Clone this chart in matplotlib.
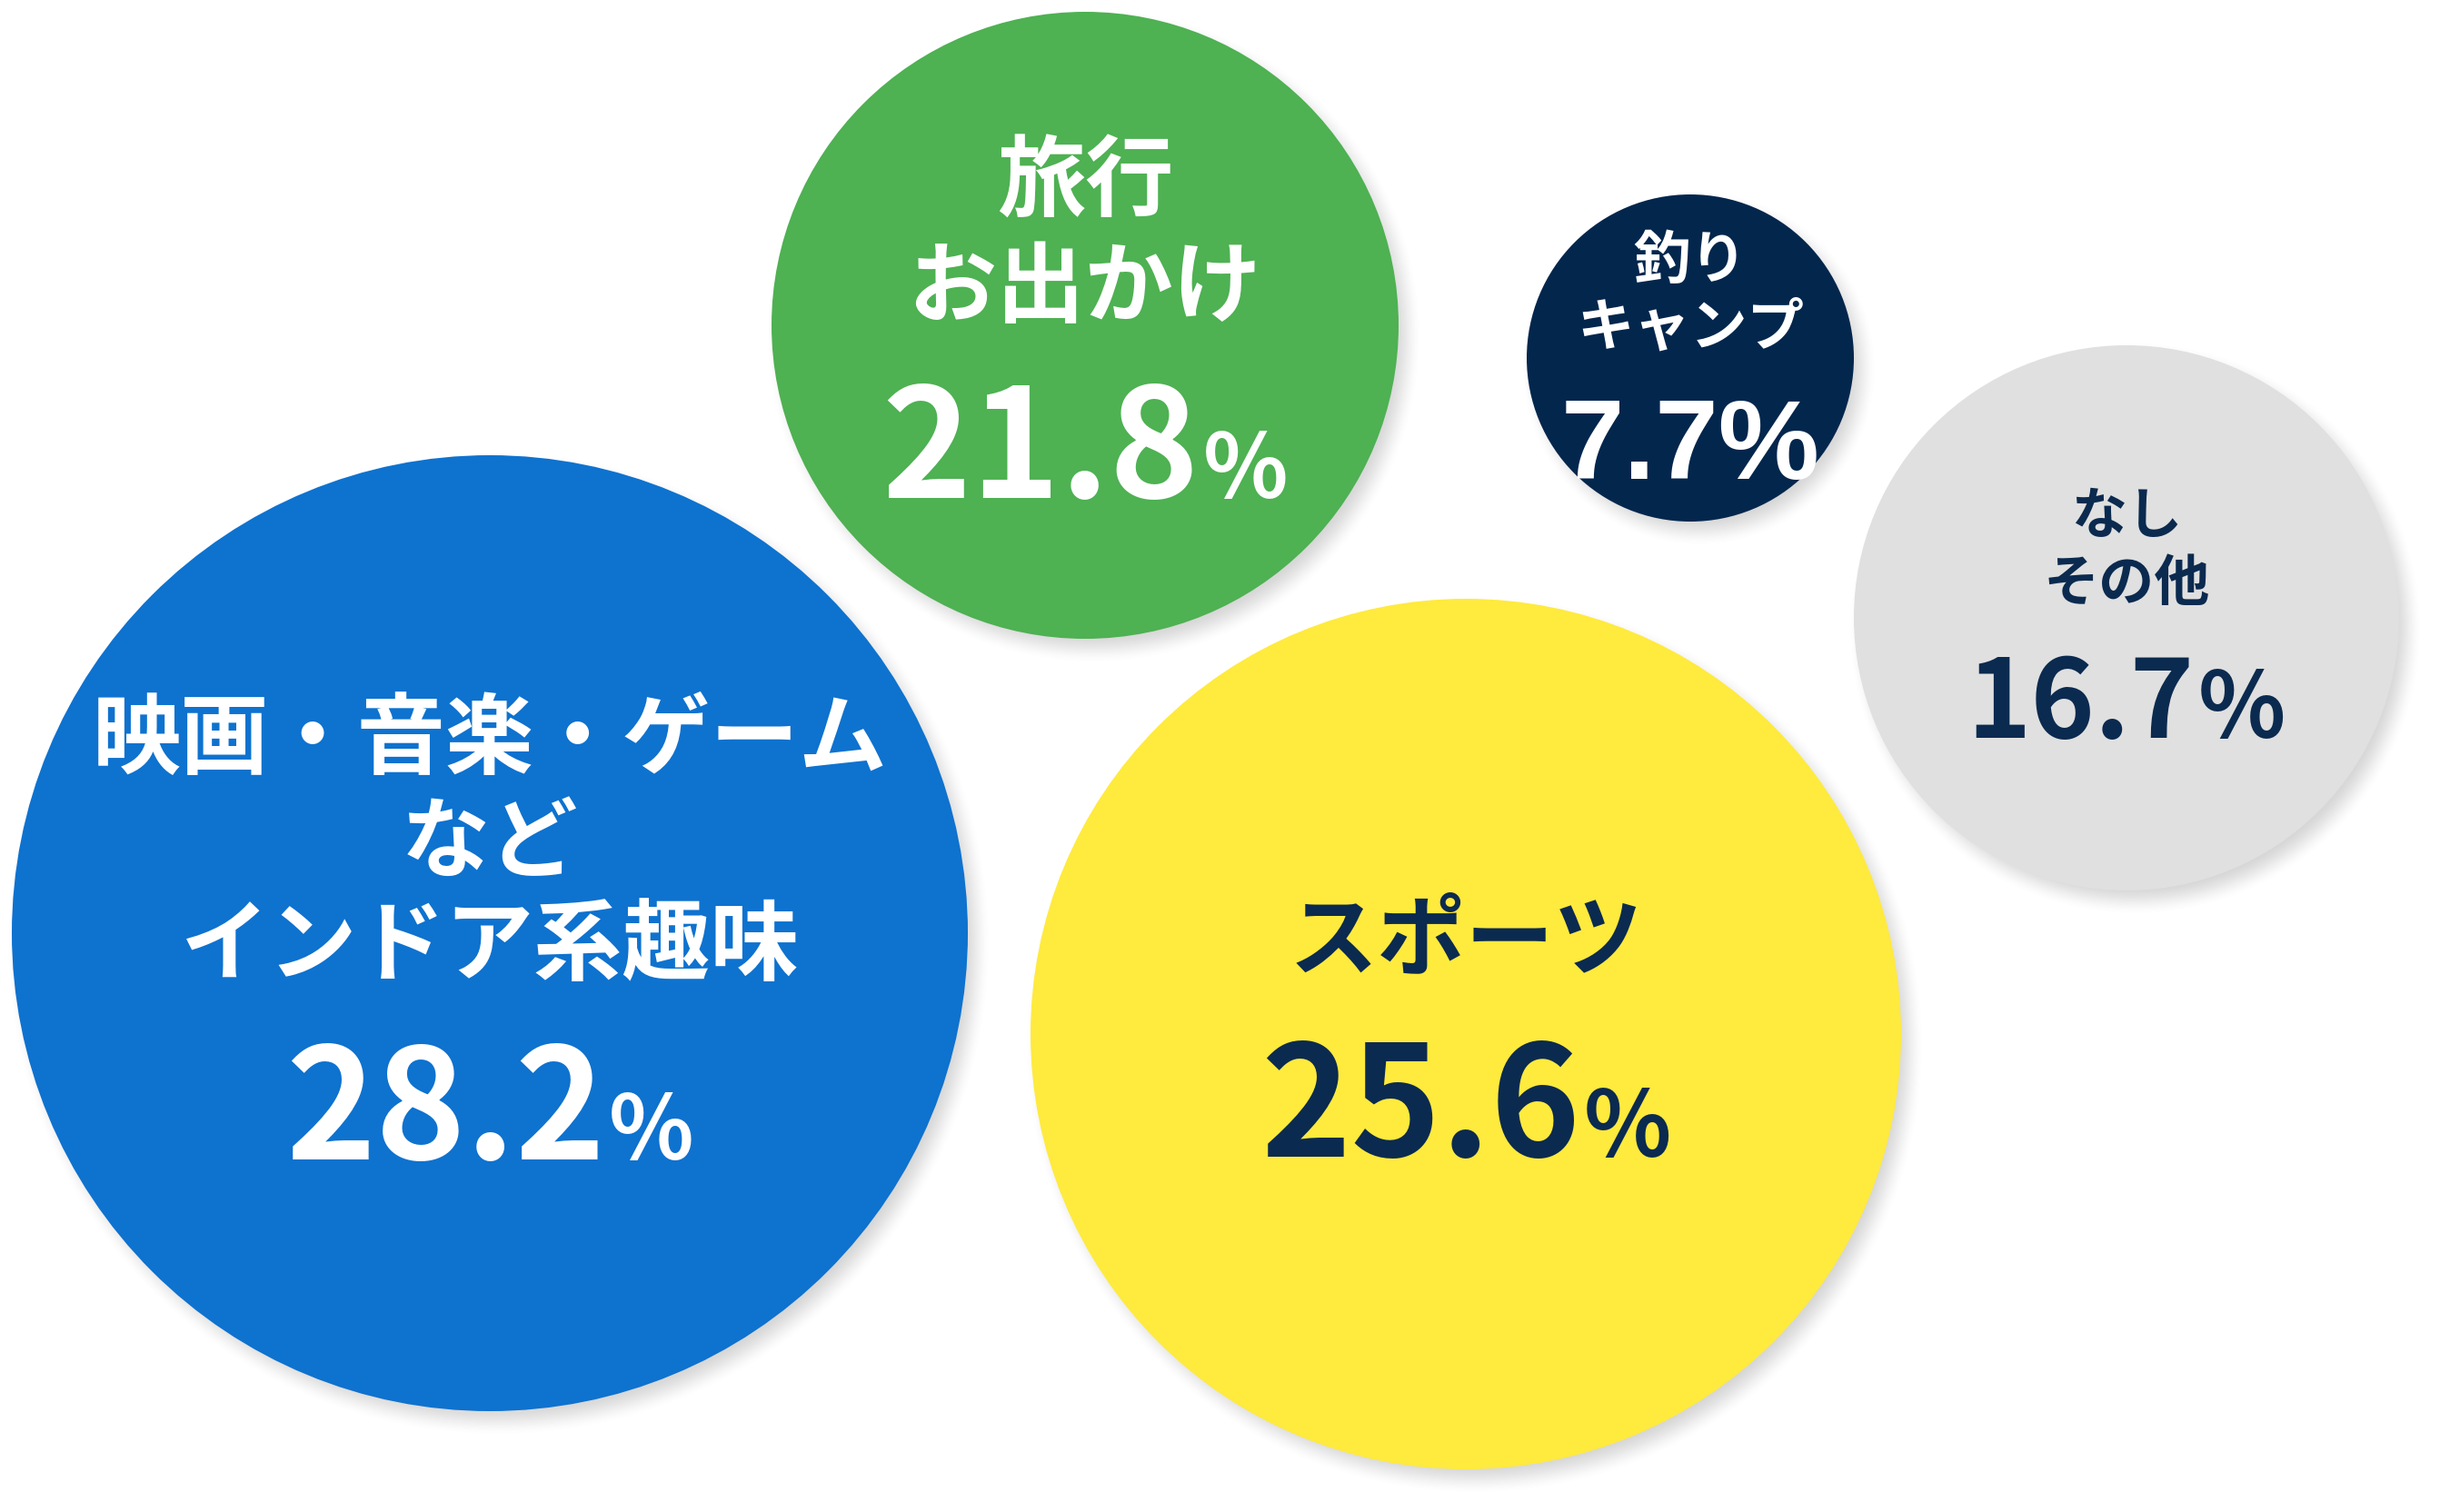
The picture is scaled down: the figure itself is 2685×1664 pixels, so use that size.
import numpy as np
import matplotlib
matplotlib.use("Agg")
import matplotlib.pyplot as plt
from matplotlib.patches import Circle

# data
categories = ["映画・音楽・ゲーム\nなど\nインドア系趣味", "旅行\nお出かけ", "釣り\nキャンプ", "なし\nその他", "スポーツ"]
values = [28.2, 21.8, 7.7, 16.7, 25.6]
colors = ["#0E72CF", "#4EB152", "#03264D", "#E0E0E0", "#FFEA3E"]
text_colors = ["white", "white", "white", "#0B2A4F", "#0B2A4F"]

# layout, in pixels from the top-left corner
W, H = 2685, 1665
cxs = [539, 1194, 1860, 2340, 1613]
cys = [1028, 359, 395, 681, 1139]
radii = [526, 345, 180, 300, 479]
label_y0 = [815, 202, 287, 569, 1037]
label_step = [114, 116, 74, 74, 0]
label_size = [70, 70, 45, 44, 70]
num_base = [1276, 548, 527, 812, 1273]
num_size = [121, 120, 90, 86, 121]
pct_size = [70, 70, 90, 72, 72]

jp = ["Noto Sans CJK JP", "DejaVu Sans"]

fig = plt.figure(figsize=(W / 100, H / 100), dpi=100)
ax = fig.add_axes([0, 0, 1, 1])
ax.set_xlim(0, W)
ax.set_ylim(H, 0)
ax.axis("off")

# soft drop shadow under the bubbles
yy, xx = np.mgrid[0:H, 0:W].astype(np.float32)
alpha = np.zeros((H, W), dtype=np.float32)
for cx, cy, r in zip(cxs, cys, radii):
    d = np.hypot(xx - cx - 9, yy - cy - 11)
    a = np.clip((r + 16 - d) / 34, 0, 1)
    a = a * a * (3 - 2 * a)
    alpha = np.maximum(alpha, a * 0.25)
img = np.zeros((H, W, 4), dtype=np.float32)
img[..., :3] = 0.35
img[..., 3] = alpha
ax.imshow(img, extent=(0, W, H, 0), zorder=1, interpolation="bilinear")

for cx, cy, r, c in zip(cxs, cys, radii, colors):
    ax.add_patch(Circle((cx, cy), r, facecolor=c, edgecolor="none", zorder=2))

renderer = fig.canvas.get_renderer()
for i, (lab, v) in enumerate(zip(categories, values)):
    tc = text_colors[i]
    for j, line in enumerate(lab.split("\n")):
        ax.text(cxs[i], label_y0[i] + j * label_step[i], line, ha="center", va="center",
                fontsize=label_size[i], fontweight="bold", family=jp, color=tc, zorder=3)
    num = f"{v:.1f}"
    if i == 2:
        ax.text(cxs[i], num_base[i], num + "%", ha="center", va="baseline",
                fontsize=num_size[i], fontweight="bold", family=["Liberation Sans"], color=tc, zorder=3)
        continue
    t1 = ax.text(0, num_base[i], num, ha="left", va="baseline", fontsize=num_size[i],
                 fontweight="bold", family=jp, color=tc, zorder=3)
    t2 = ax.text(0, num_base[i], "%", ha="left", va="baseline", fontsize=pct_size[i],
                 fontweight="bold", family=jp, color=tc, zorder=3)
    w1 = t1.get_window_extent(renderer).width
    w2 = t2.get_window_extent(renderer).width
    gap = 4
    x0 = cxs[i] - (w1 + gap + w2) / 2
    t1.set_x(x0)
    t2.set_x(x0 + w1 + gap)

fig.savefig("out.png", dpi=100, facecolor="white")
